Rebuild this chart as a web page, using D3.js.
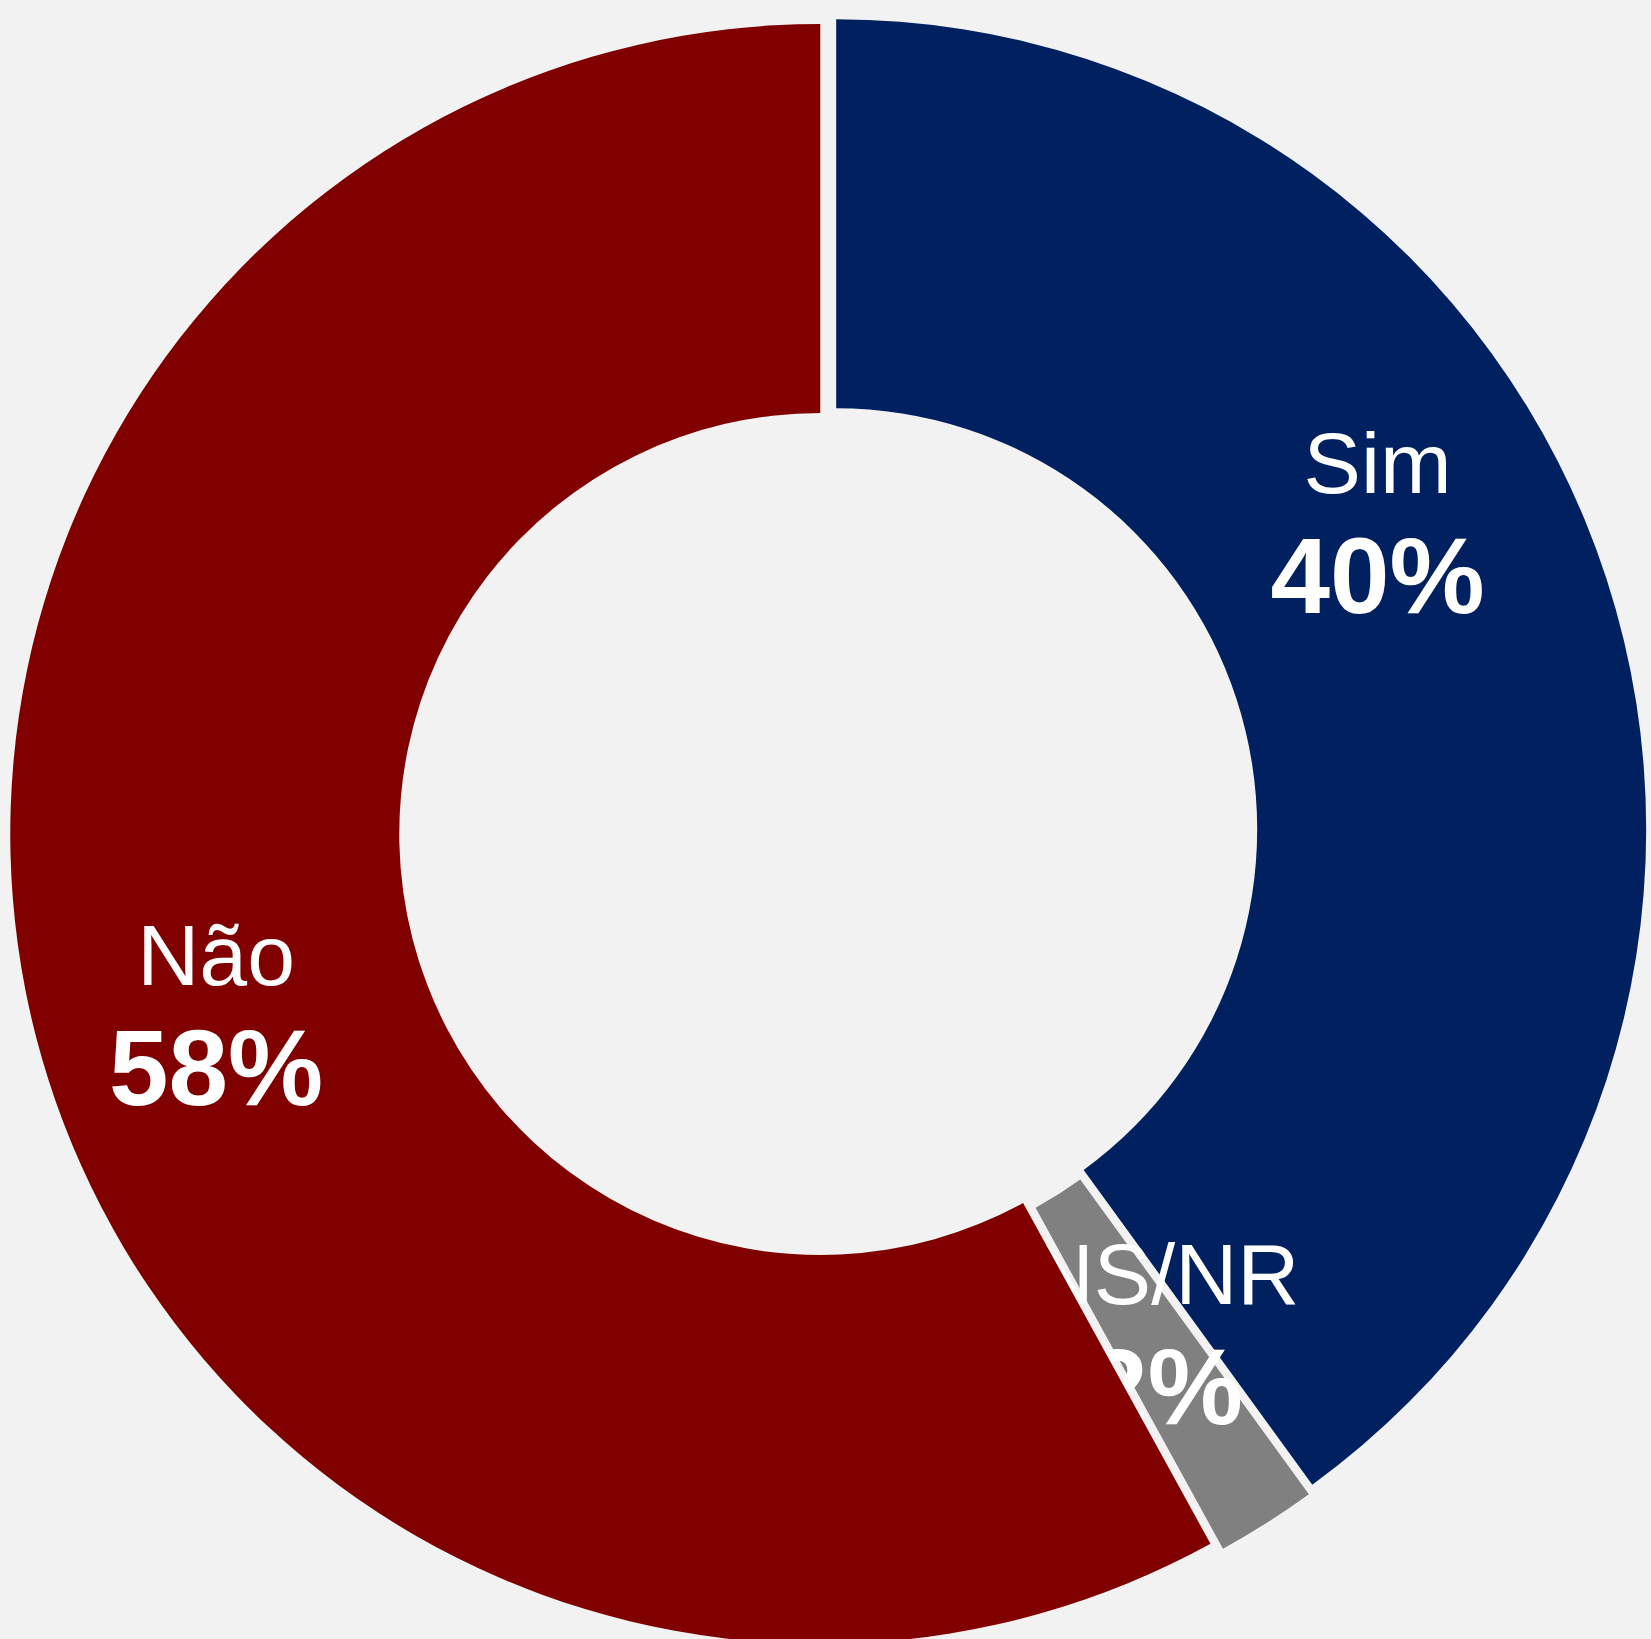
<!DOCTYPE html>
<html lang="pt-BR">
<head>
<meta charset="UTF-8">
<script src="https://d3js.org/d3.v7.min.js"></script>
<style>
  html, body { margin: 0; padding: 0; background: #F2F2F2; }
  svg { display: block; font-family: 'Liberation Sans', Arial, sans-serif; }
</style>
</head>
<body>
<div id="chart"></div>
<script>
// Dados
const categories = ["Sim", "NS/NR", "Não"];
const values = [40, 2, 58];
const valueLabels = ["40%", "2%", "58%"];
const colors = ["#002060", "#808080", "#800000"];

const width = 1651;
const height = 1639;
const cx = 828.3, cy = 831.9;
const outerR = 810, innerR = 421;
const explode = 8.3;

// ajuste fino dos rótulos em relação ao centróide
const labelShift = { "Sim": [-44, -115], "NS/NR": [3, -24], "Não": [-8, 29] };

const svg = d3.select("#chart").append("svg")
  .attr("width", width)
  .attr("height", height);

svg.append("rect").attr("width", width).attr("height", height).attr("fill", "#F2F2F2");

const pie = d3.pie().sort(null).value(d => d.value);
const arc = d3.arc().innerRadius(innerR).outerRadius(outerR);

const data = categories.map((c, i) => ({ name: c, value: values[i], label: valueLabels[i], color: colors[i] }));
const arcs = pie(data);

const slices = svg.append("g").attr("transform", `translate(${cx},${cy})`)
  .selectAll("g")
  .data(arcs)
  .join("g")
  .attr("transform", d => {
    const mid = (d.startAngle + d.endAngle) / 2;
    return `translate(${Math.sin(mid) * explode},${-Math.cos(mid) * explode})`;
  });

slices.append("path")
  .attr("d", arc)
  .attr("fill", d => d.data.color);

const labels = slices.append("text")
  .attr("fill", "#FFFFFF")
  .attr("text-anchor", "middle")
  .attr("transform", d => {
    const [x, y] = arc.centroid(d);
    const s = labelShift[d.data.name];
    return `translate(${x + s[0]},${y + s[1]})`;
  });

labels.append("tspan")
  .attr("x", 0)
  .attr("y", -31)
  .attr("font-size", "86px")
  .text(d => d.data.name);

labels.append("tspan")
  .attr("x", 0)
  .attr("y", 89)
  .attr("font-size", "107px")
  .attr("font-weight", "bold")
  .text(d => d.data.label);
</script>
</body>
</html>
